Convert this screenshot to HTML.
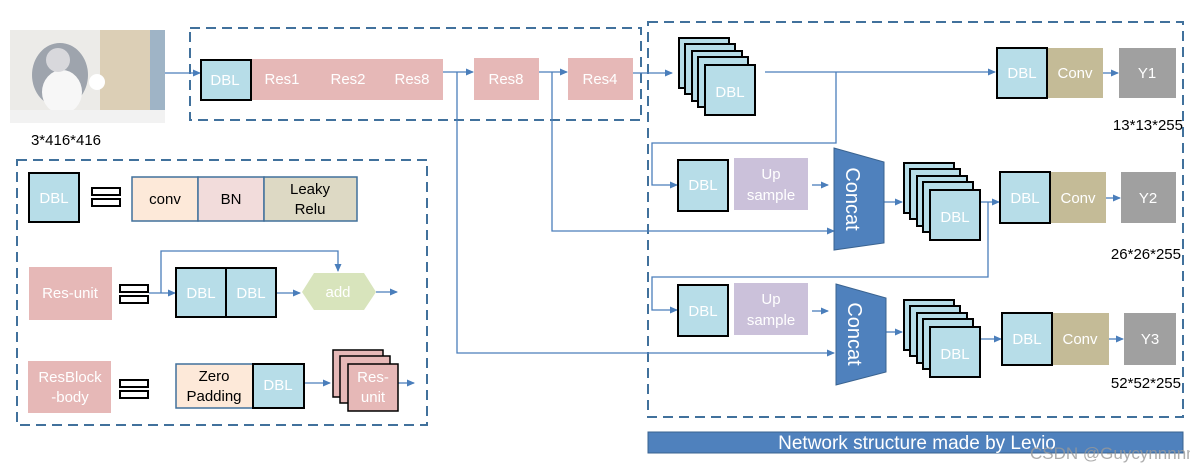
<!DOCTYPE html>
<html><head><meta charset="utf-8"><style>
body{margin:0;background:#fff}
svg{display:block}
text{font-family:"Liberation Sans",sans-serif}
</style></head><body>
<svg width="1190" height="470" viewBox="0 0 1190 470" xmlns="http://www.w3.org/2000/svg">
<defs>
<marker id="a" markerWidth="8" markerHeight="8" refX="7" refY="4" orient="auto" markerUnits="userSpaceOnUse"><path d="M0,0.5 L8,4 L0,7.5z" fill="#4a7ebb"/></marker>
<g id="stk">
<rect x="0" y="0" width="50" height="50" fill="#b7dde8" stroke="#000" stroke-width="2"/>
<rect x="6" y="6" width="50" height="50" fill="#b7dde8" stroke="#000" stroke-width="2"/>
<rect x="13" y="13" width="50" height="50" fill="#b7dde8" stroke="#000" stroke-width="2"/>
<rect x="19" y="19" width="50" height="50" fill="#b7dde8" stroke="#000" stroke-width="2"/>
<rect x="26" y="27" width="50" height="50" fill="#b7dde8" stroke="#000" stroke-width="2"/>
<text x="51" y="59" font-size="15" fill="#fff" text-anchor="middle">DBL</text>
</g>
</defs>
<g fill="none" stroke="#41719c" stroke-width="2" stroke-dasharray="10,6">
<rect x="190" y="28" width="451" height="92"/>
<rect x="648" y="22" width="535" height="395"/>
<rect x="17" y="160" width="410" height="265"/>
</g>
<!-- cat image -->
<rect x="10" y="30" width="155" height="93" fill="#ecebe8"/>
<rect x="100" y="30" width="52" height="80" fill="#dccfb6"/>
<rect x="150" y="30" width="15" height="93" fill="#9fb4c6"/>
<ellipse cx="60" cy="75" rx="28" ry="32" fill="#9ea4ad"/>
<ellipse cx="62" cy="92" rx="20" ry="22" fill="#f7f7f7"/>
<ellipse cx="58" cy="60" rx="12" ry="12" fill="#d8d8dc"/>
<circle cx="97" cy="82" r="8" fill="#fff"/>
<rect x="10" y="110" width="155" height="13" fill="#f2f2f2"/>
<text x="66" y="145" font-size="15" text-anchor="middle">3*416*416</text>
<g stroke="#4a7ebb" stroke-width="1.3" fill="none">
<line x1="165" y1="73" x2="200" y2="73" marker-end="url(#a)"/>
<line x1="443" y1="72" x2="473" y2="72" marker-end="url(#a)"/>
<line x1="539" y1="72" x2="567" y2="72" marker-end="url(#a)"/>
<line x1="633" y1="73" x2="672" y2="73" marker-end="url(#a)"/>
<polyline points="457,72 457,353 834,353" marker-end="url(#a)"/>
<polyline points="552,72 552,231 834,231" marker-end="url(#a)"/>
<line x1="765" y1="72" x2="995" y2="72" marker-end="url(#a)"/>
<polyline points="836,72 836,143 652,143 652,185 677,185" marker-end="url(#a)"/>
<line x1="1103" y1="73" x2="1118" y2="73" marker-end="url(#a)"/>
<line x1="812" y1="185" x2="828" y2="185" marker-end="url(#a)"/>
<line x1="884" y1="202" x2="902" y2="202" marker-end="url(#a)"/>
<line x1="980" y1="202" x2="999" y2="202" marker-end="url(#a)"/>
<polyline points="988,202 988,277 652,277 652,310 677,310" marker-end="url(#a)"/>
<line x1="1106" y1="198" x2="1120" y2="198" marker-end="url(#a)"/>
<line x1="812" y1="311" x2="828" y2="311" marker-end="url(#a)"/>
<line x1="886" y1="332" x2="902" y2="332" marker-end="url(#a)"/>
<line x1="980" y1="339" x2="1001" y2="339" marker-end="url(#a)"/>
<line x1="1109" y1="339" x2="1123" y2="339" marker-end="url(#a)"/>
<polyline points="161,293 161,251 338,251 338,271" marker-end="url(#a)"/>
<line x1="149" y1="293" x2="175" y2="293" marker-end="url(#a)"/>
<line x1="276" y1="293" x2="300" y2="293" marker-end="url(#a)"/>
<line x1="376" y1="292" x2="397" y2="292" marker-end="url(#a)"/>
<line x1="304" y1="383" x2="330" y2="383" marker-end="url(#a)"/>
<line x1="398" y1="383" x2="414" y2="383" marker-end="url(#a)"/>
</g>
<!-- top backbone -->
<rect x="251" y="59" width="192" height="41" fill="#e6b8b7"/>
<rect x="201" y="60" width="50" height="40" fill="#b7dde8" stroke="#000" stroke-width="2"/>
<g font-size="15" fill="#fff" text-anchor="middle">
<text x="225" y="85">DBL</text><text x="282" y="84">Res1</text><text x="348" y="84">Res2</text><text x="412" y="84">Res8</text>
</g>
<rect x="474" y="58" width="65" height="42" fill="#e6b8b7"/>
<rect x="568" y="58" width="65" height="42" fill="#e6b8b7"/>
<text x="506" y="84" font-size="15" fill="#fff" text-anchor="middle">Res8</text>
<text x="600" y="84" font-size="15" fill="#fff" text-anchor="middle">Res4</text>
<!-- stacks -->
<use href="#stk" x="679" y="38"/>
<use href="#stk" x="904" y="163"/>
<use href="#stk" x="904" y="300"/>
<!-- outputs -->
<g font-size="15" fill="#fff" text-anchor="middle">
<rect x="1047" y="48" width="56" height="50" fill="#c4bb97"/>
<rect x="997" y="48" width="50" height="50" fill="#b7dde8" stroke="#000" stroke-width="2"/>
<rect x="1119" y="48" width="57" height="50" fill="#a0a0a0"/>
<text x="1022" y="78">DBL</text><text x="1075" y="78">Conv</text><text x="1147" y="78">Y1</text>
<rect x="1050" y="172" width="56" height="51" fill="#c4bb97"/>
<rect x="1000" y="172" width="50" height="51" fill="#b7dde8" stroke="#000" stroke-width="2"/>
<rect x="1121" y="172" width="55" height="51" fill="#a0a0a0"/>
<text x="1025" y="203">DBL</text><text x="1078" y="203">Conv</text><text x="1148" y="203">Y2</text>
<rect x="1052" y="313" width="57" height="52" fill="#c4bb97"/>
<rect x="1002" y="313" width="50" height="52" fill="#b7dde8" stroke="#000" stroke-width="2"/>
<rect x="1124" y="313" width="52" height="52" fill="#a0a0a0"/>
<text x="1027" y="344">DBL</text><text x="1080" y="344">Conv</text><text x="1150" y="344">Y3</text>
<rect x="678" y="160" width="50" height="51" fill="#b7dde8" stroke="#000" stroke-width="2"/>
<rect x="734" y="158" width="74" height="52" fill="#cbc1da"/>
<text x="703" y="190">DBL</text><text x="771" y="179">Up</text><text x="771" y="200">sample</text>
<rect x="678" y="285" width="50" height="51" fill="#b7dde8" stroke="#000" stroke-width="2"/>
<rect x="734" y="283" width="74" height="52" fill="#cbc1da"/>
<text x="703" y="316">DBL</text><text x="771" y="304">Up</text><text x="771" y="325">sample</text>
</g>
<polygon points="834,148 884,162 884,243 834,250" fill="#4f81bd" stroke="#3a6390"/>
<polygon points="836,284 886,298 886,372 836,385" fill="#4f81bd" stroke="#3a6390"/>
<text transform="translate(846,199) rotate(90)" font-size="20" fill="#fff" text-anchor="middle">Concat</text>
<text transform="translate(848,334) rotate(90)" font-size="20" fill="#fff" text-anchor="middle">Concat</text>
<g font-size="15" text-anchor="end">
<text x="1183" y="130">13*13*255</text><text x="1181" y="259">26*26*255</text><text x="1181" y="388">52*52*255</text>
</g>
<rect x="648" y="432" width="535" height="21" fill="#4f81bd" stroke="#3a6390"/>
<text x="917" y="449" font-size="19" fill="#fff" text-anchor="middle">Network structure made by Levio</text>
<text x="1030" y="459" font-size="17" fill="#999" fill-opacity="0.8">CSDN @Guycynnnnn</text>
<!-- legend -->
<g font-size="15" text-anchor="middle">
<rect x="29" y="173" width="50" height="49" fill="#b7dde8" stroke="#000" stroke-width="2"/>
<text x="54" y="203" fill="#fff">DBL</text>
<rect x="132" y="177" width="66" height="44" fill="#fde9d9" stroke="#41719c" stroke-width="1.5"/>
<rect x="198" y="177" width="66" height="44" fill="#f2dcdb" stroke="#41719c" stroke-width="1.5"/>
<rect x="264" y="177" width="93" height="44" fill="#ddd9c4" stroke="#41719c" stroke-width="1.5"/>
<text x="165" y="204">conv</text><text x="231" y="204">BN</text><text x="310" y="194">Leaky</text><text x="310" y="214">Relu</text>
<rect x="29" y="267" width="83" height="53" fill="#e6b8b7"/>
<text x="70" y="298" fill="#fff">Res-unit</text>
<rect x="176" y="268" width="50" height="49" fill="#b7dde8" stroke="#000" stroke-width="2"/>
<rect x="226" y="268" width="50" height="49" fill="#b7dde8" stroke="#000" stroke-width="2"/>
<text x="201" y="298" fill="#fff">DBL</text><text x="251" y="298" fill="#fff">DBL</text>
<polygon points="302,292 314,273 364,273 376,292 364,310 314,310" fill="#d8e4bc"/>
<text x="338" y="297" fill="#fff">add</text>
<rect x="28" y="361" width="83" height="52" fill="#e6b8b7"/>
<text x="70" y="382" fill="#fff">ResBlock</text><text x="70" y="402" fill="#fff">-body</text>
<rect x="176" y="364" width="77" height="44" fill="#fde9d9" stroke="#41719c" stroke-width="1.5"/>
<rect x="253" y="364" width="51" height="44" fill="#b7dde8" stroke="#000" stroke-width="2"/>
<text x="214" y="381">Zero</text><text x="214" y="401">Padding</text><text x="278" y="390" fill="#fff">DBL</text>
<rect x="333" y="350" width="50" height="47" fill="#e6b8b7" stroke="#000" stroke-width="1.5"/>
<rect x="340" y="356" width="50" height="47" fill="#e6b8b7" stroke="#000" stroke-width="1.5"/>
<rect x="348" y="364" width="50" height="47" fill="#e6b8b7" stroke="#000" stroke-width="1.5"/>
<text x="373" y="382" fill="#fff">Res-</text><text x="373" y="402" fill="#fff">unit</text>
</g>
<g fill="#fff" stroke="#000" stroke-width="2">
<rect x="92" y="188" width="28" height="7"/><rect x="92" y="199" width="28" height="7"/>
<rect x="120" y="285" width="28" height="7"/><rect x="120" y="296" width="28" height="7"/>
<rect x="120" y="380" width="28" height="7"/><rect x="120" y="391" width="28" height="7"/>
</g>
</svg>
</body></html>
